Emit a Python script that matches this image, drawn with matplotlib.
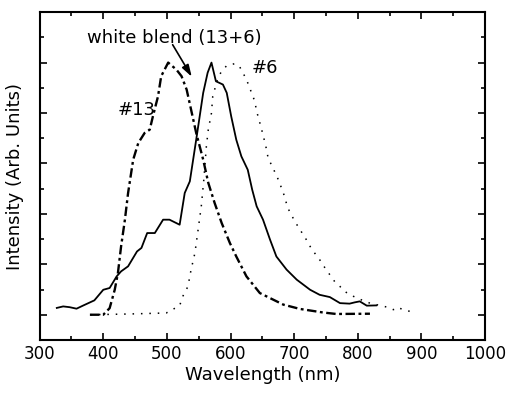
import matplotlib
matplotlib.use("Agg")
import matplotlib.pyplot as plt
from matplotlib.ticker import MultipleLocator

# ── data ──────────────────────────────────────────────────────────────
# white blend (13+6), solid line
blend_wl = [327, 337, 347, 358, 368, 386, 400, 410, 421, 428, 439, 453, 460,
            469, 481, 494, 504, 520, 528, 536, 546, 557, 564, 570, 577, 588,
            594, 601, 609, 617, 627, 634, 641, 651, 662, 672, 688, 704, 725,
            740, 756, 772, 787, 795, 803, 814, 829]
blend_int = [0.027, 0.033, 0.030, 0.024, 0.036, 0.057, 0.099, 0.106, 0.152,
             0.172, 0.192, 0.251, 0.265, 0.324, 0.324, 0.377, 0.377, 0.357,
             0.483, 0.529, 0.694, 0.880, 0.960, 1.000, 0.926, 0.913, 0.880,
             0.787, 0.694, 0.628, 0.575, 0.496, 0.430, 0.377, 0.298, 0.231,
             0.179, 0.139, 0.099, 0.079, 0.070, 0.046, 0.044, 0.049, 0.053,
             0.036, 0.037]

# #13, dash-dot line
c13_wl = [379, 400, 410, 418, 423, 428, 434, 439, 447, 455, 465, 473, 478,
          486, 491, 502, 515, 523, 531, 538, 546, 557, 565, 575, 586, 599,
          609, 625, 646, 662, 683, 709, 745, 766, 819]
c13_int = [0.0, 0.0, 0.026, 0.099, 0.165, 0.271, 0.377, 0.483, 0.615, 0.681,
           0.721, 0.734, 0.787, 0.866, 0.946, 1.000, 0.972, 0.946, 0.893,
           0.813, 0.721, 0.615, 0.523, 0.443, 0.364, 0.284, 0.231, 0.152,
           0.086, 0.066, 0.040, 0.023, 0.009, 0.003, 0.004]

# #6, dotted line
c6_wl = [380, 442, 499, 520, 525, 533, 538, 544, 549, 554, 558, 562, 565,
         570, 572, 575, 580, 586, 594, 607, 614, 625, 630, 638, 641, 646,
         651, 656, 659, 669, 675, 683, 690, 701, 706, 719, 727, 743, 748,
         764, 772, 777, 785, 793, 811, 819, 848, 856, 861, 882, 890]
c6_int = [0.0, 0.003, 0.007, 0.036, 0.073, 0.112, 0.179, 0.245, 0.337, 0.430,
          0.536, 0.668, 0.734, 0.800, 0.866, 0.893, 0.939, 0.966, 0.988,
          0.996, 0.985, 0.933, 0.900, 0.847, 0.807, 0.761, 0.714, 0.661,
          0.622, 0.569, 0.536, 0.483, 0.423, 0.370, 0.350, 0.298, 0.262,
          0.208, 0.187, 0.130, 0.112, 0.097, 0.083, 0.073, 0.053, 0.046,
          0.029, 0.020, 0.029, 0.013, 0.013]

x_ticks = [300, 400, 500, 600, 700, 800, 900, 1000]

# =============================================================================
# PLOT
# =============================================================================
plt.rcParams["font.family"] = ["DejaVu Sans"]

fig = plt.figure(figsize=(5.08, 3.93), dpi=100)
ax = fig.add_axes([0.078, 0.135, 0.877, 0.834])

ax.plot(blend_wl, blend_int, color="black", lw=1.3, ls="-")
ax.plot(c13_wl, c13_int, color="black", lw=1.7, ls=(0, (4, 1.5, 1.2, 1.5)))
ax.plot(c6_wl, c6_int, color="black", lw=1.1, ls=(0, (1, 4.5)))

ax.set_xlim(300, 1000)
ax.set_ylim(-0.1, 1.2)
ax.set_xticks(x_ticks)
ax.xaxis.set_minor_locator(MultipleLocator(50))
ax.yaxis.set_major_locator(MultipleLocator(0.2))
ax.yaxis.set_minor_locator(MultipleLocator(0.1))
ax.set_yticklabels([])

ax.tick_params(which="both", direction="in", top=True, right=True,
               width=1.2, labelsize=12, colors="black")
ax.tick_params(which="major", length=5)
ax.tick_params(which="minor", length=3)
for s in ax.spines.values():
    s.set_linewidth(1.5)

ax.set_xlabel("Wavelength (nm)", fontsize=13, labelpad=2)
ax.set_ylabel("Intensity (Arb. Units)", fontsize=13, labelpad=8)

# annotations
ax.text(374, 1.099, "white blend (13+6)", fontsize=13, va="center", ha="left")
ax.annotate("", xy=(539, 0.944), xytext=(509, 1.071),
            arrowprops=dict(arrowstyle="-|>,head_length=0.7,head_width=0.22",
                            color="black", lw=1.2, mutation_scale=10,
                            shrinkA=0, shrinkB=0))
ax.text(423, 0.813, "#13", fontsize=13, va="center", ha="left")
ax.text(633, 0.98, "#6", fontsize=13, va="center", ha="left")

fig.savefig("out.png", dpi=100)
